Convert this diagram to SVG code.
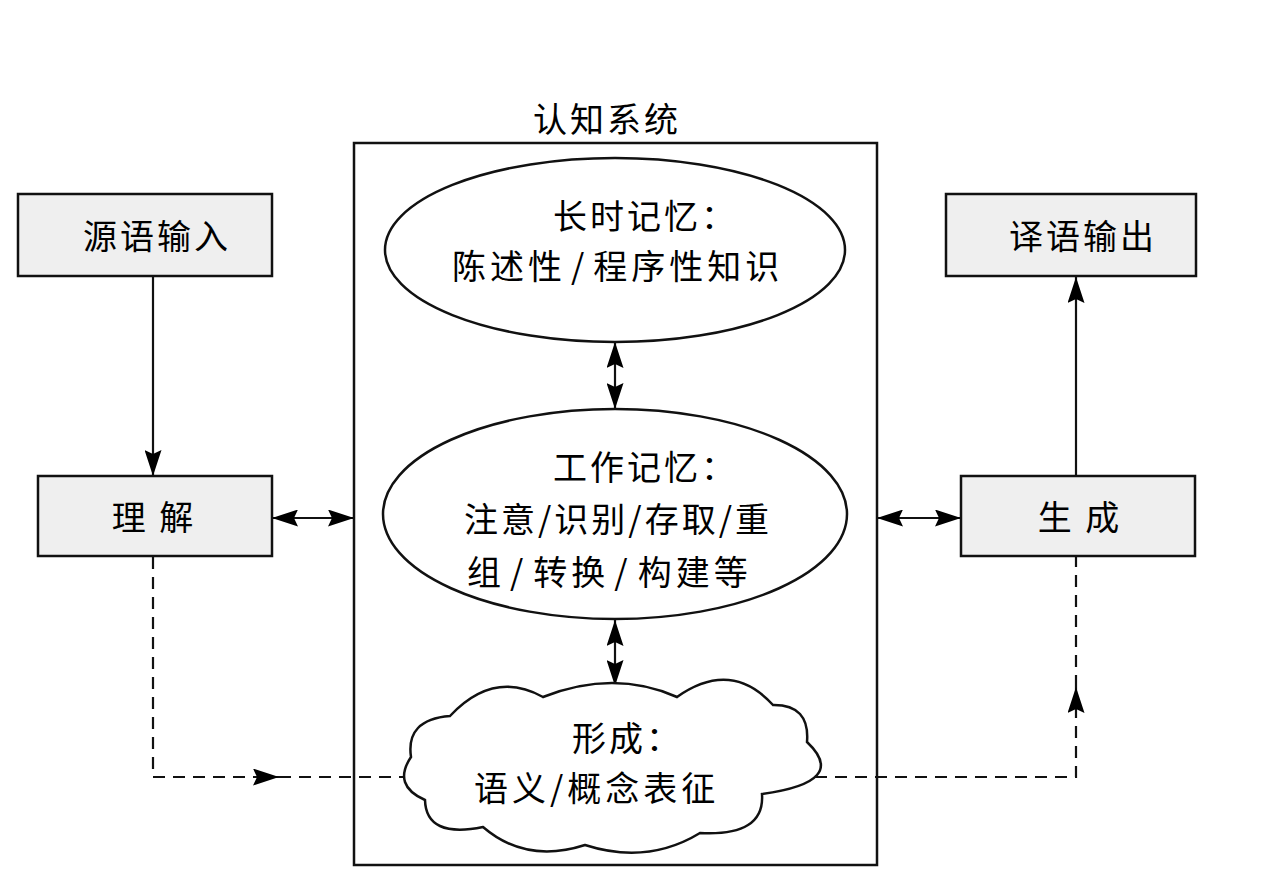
<svg xmlns="http://www.w3.org/2000/svg" width="1269" height="885" viewBox="0 0 1269 885">
<style>
.box{fill:#efefef;stroke:#111;stroke-width:2.5}
.frame{fill:none;stroke:#111;stroke-width:2.5}
.ell{fill:#fff;stroke:#111;stroke-width:2.5}
.ln{fill:none;stroke:#111;stroke-width:2.2}
.dash{fill:none;stroke:#111;stroke-width:2.2;stroke-dasharray:12 8}
text{font-family:"Noto Sans CJK SC","Noto Sans",sans-serif;font-size:34px;fill:#000;letter-spacing:3px}
.c{text-anchor:middle}
</style>
<defs>
<marker id="ah" viewBox="0 0 26 17" refX="26" refY="8.5" markerWidth="26" markerHeight="17" markerUnits="userSpaceOnUse" orient="auto-start-reverse">
<path d="M0,0 L26,8.5 L0,17 L4,8.5 Z" fill="#000"/>
</marker>
</defs>
<g id="connectors">
<line class="ln" x1="153" y1="277" x2="153" y2="476" marker-end="url(#ah)"/>
<line class="ln" x1="1076" y1="476" x2="1076" y2="277" marker-end="url(#ah)"/>
<line class="ln" x1="272" y1="518" x2="354" y2="518" marker-start="url(#ah)" marker-end="url(#ah)"/>
<line class="ln" x1="877" y1="518" x2="961" y2="518" marker-start="url(#ah)" marker-end="url(#ah)"/>
<line class="ln" x1="615" y1="342" x2="615" y2="409" marker-start="url(#ah)" marker-end="url(#ah)"/>
<line class="ln" x1="615" y1="620" x2="615" y2="686" marker-start="url(#ah)" marker-end="url(#ah)"/>
<path class="dash" d="M153 557 V777 H279" marker-end="url(#ah)"/>
<path class="dash" d="M279 777 H415"/>
<path class="dash" d="M815 777 H1076 V687" marker-end="url(#ah)"/>
<path class="dash" d="M1076 687 V557"/>
</g>
<g id="cognitive-system">
<rect class="frame" x="354" y="143" width="523" height="722"/>
<text class="c" x="607" y="132">认知系统</text>
</g>
<g id="source-input">
<rect class="box" x="18" y="194" width="254" height="82"/>
<text class="c" x="157" y="249">源语输入</text>
</g>
<g id="comprehension">
<rect class="box" x="38" y="476" width="234" height="80"/>
<text class="c" x="154" y="530">理 解</text>
</g>
<g id="target-output">
<rect class="box" x="946" y="194" width="250" height="82"/>
<text class="c" x="1083" y="249">译语输出</text>
</g>
<g id="generation">
<rect class="box" x="961" y="476" width="234" height="80"/>
<text class="c" x="1080" y="530">生 成</text>
</g>
<g id="long-term-memory">
<ellipse class="ell" cx="615" cy="250" rx="230" ry="92"/>
<text x="553" y="229">长时记忆：</text>
<text x="452" y="279" style="letter-spacing:4px">陈述性<tspan dx="5" style="letter-spacing:9px">/</tspan>程序性知识</text>
</g>
<g id="working-memory">
<ellipse class="ell" cx="615" cy="514" rx="232" ry="105"/>
<text x="553" y="480">工作记忆：</text>
<text x="464" y="532">注意/识别/存取/重</text>
<text x="467" y="585" style="letter-spacing:4px">组<tspan dx="5" style="letter-spacing:10px">/</tspan>转换<tspan dx="5" style="letter-spacing:10px">/</tspan>构建等</text>
</g>
<g id="representation">
<path class="ell" d="M411 757 Q405.5 719.5 450 716 Q493.5 669.5 543 697 Q614 669 677 697 Q731 659 773 705 Q810 704.5 807 742 Q849.5 782 762 794 Q765 836.5 700 833 Q647.5 865 585 845 Q526 864 483 827 Q426 838.5 425 800 Q392 785.5 411 757 Z"/>
<text x="572" y="751">形成：</text>
<text x="474" y="801" style="letter-spacing:4px">语义/概念表征</text>
</g>
</svg>
